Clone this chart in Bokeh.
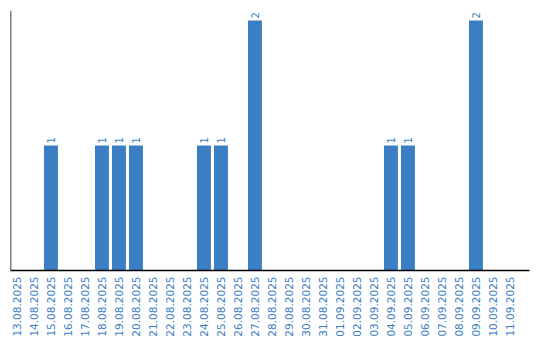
import math
from bokeh.plotting import figure
from bokeh.models import ColumnDataSource, FixedTicker, Span, Range1d
from bokeh.core.properties import value
from bokeh.embed import file_html
from bokeh.resources import INLINE

dates = ["13.08.2025", "14.08.2025", "15.08.2025", "16.08.2025", "17.08.2025",
         "18.08.2025", "19.08.2025", "20.08.2025", "21.08.2025", "22.08.2025",
         "23.08.2025", "24.08.2025", "25.08.2025", "26.08.2025", "27.08.2025",
         "28.08.2025", "29.08.2025", "30.08.2025", "31.08.2025", "01.09.2025",
         "02.09.2025", "03.09.2025", "04.09.2025", "05.09.2025", "06.09.2025",
         "07.09.2025", "08.09.2025", "09.09.2025", "10.09.2025", "11.09.2025"]
counts = [0, 0, 1, 0, 0, 1, 1, 1, 0, 0, 0, 1, 1, 0, 2,
          0, 0, 0, 0, 0, 0, 0, 1, 1, 0, 0, 0, 2, 0, 0]

BLUE = "#3b7ec4"
FONT = "DejaVu Sans"

idx = list(range(len(dates)))
bar_idx = [i for i in idx if counts[i] > 0]
src = ColumnDataSource(dict(x=bar_idx, top=[counts[i] for i in bar_idx],
                            lab=[str(counts[i]) for i in bar_idx]))

p = figure(width=540, height=340, frame_width=519, frame_height=260,
           output_backend="svg", toolbar_location=None,
           x_range=Range1d(-0.38, 30.15), y_range=Range1d(0, 2.08),
           min_border_left=10, min_border_right=10, min_border_top=10,
           min_border_bottom=0)
p.outline_line_color = None
p.grid.visible = False
p.background_fill_color = "white"
p.border_fill_color = "white"

p.vbar(x="x", top="top", width=0.82, bottom=0, source=src,
       fill_color=BLUE, line_color=None)
p.text(x="x", y="top", text="lab", source=src, angle=math.pi / 2,
       text_align="left", text_baseline="middle", y_offset=-2,
       text_color=BLUE, text_font=value(FONT), text_font_size="10px")

p.yaxis.visible = False
p.add_layout(Span(location=-0.38, dimension="height", line_color="black", line_width=1.5))

xa = p.xaxis[0]
xa.ticker = FixedTicker(ticks=idx)
xa.major_label_overrides = {i: d for i, d in zip(idx, dates)}
xa.major_label_orientation = math.pi / 2
xa.major_tick_out = 0
xa.major_tick_in = 0
xa.minor_tick_out = 0
xa.minor_tick_in = 0
xa.axis_line_color = "black"
xa.axis_line_width = 1.5
xa.major_label_standoff = 6
xa.major_label_text_color = BLUE
xa.major_label_text_font = FONT
xa.major_label_text_font_size = "10.5px"

open("out.html", "w").write(file_html(p, INLINE))
